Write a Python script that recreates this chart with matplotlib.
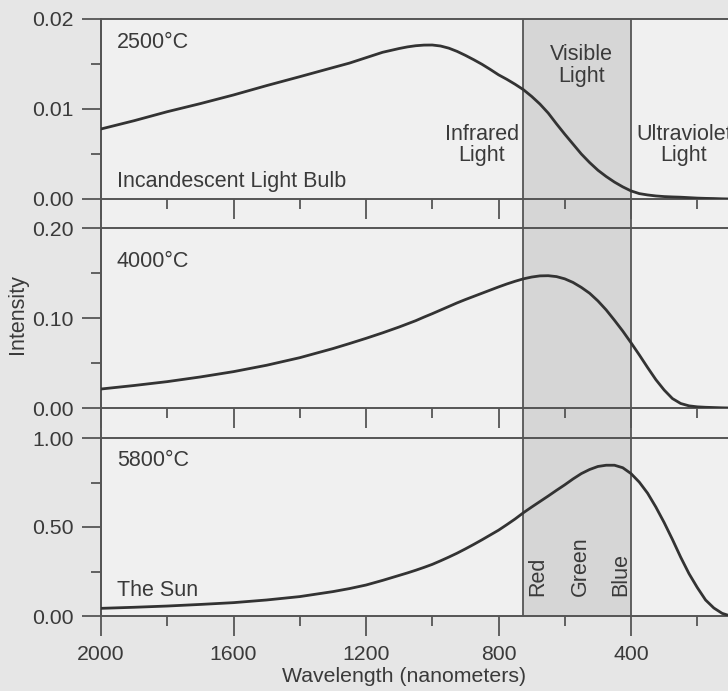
import matplotlib
matplotlib.use("Agg")
import matplotlib.pyplot as plt
from matplotlib.ticker import MultipleLocator, FormatStrFormatter
import matplotlib.transforms as mtrans

plt.rcParams['font.family'] = ['Liberation Sans', 'DejaVu Sans']

# ---- data ----
wavelength = [2000, 1900, 1800, 1700, 1600, 1500, 1400, 1300, 1250, 1200, 1150,
              1100, 1075, 1050, 1025, 1000, 975, 950, 925, 900, 875, 850, 825,
              800, 775, 750, 725, 700, 675, 650, 625, 600, 575, 550, 525, 500,
              475, 450, 425, 400, 375, 350, 325, 300, 275, 250, 225, 200, 175,
              150, 125, 100]
bulb_2500 = [.00778, .0087, .0097, .0106, .01156, .0126, .01359, .0146, .0151,
             .0157, .0163,
             .01672, .01690, .01703, .01710, .01711, .01700, .01676, .01640,
             .01596, .01548, .01497, .01440, .01380, .01330, .01275, .01215,
             .01140, .01055, .00955, .00835, .00720, .00610, .00500, .00405,
             .00320, .00250, .00188, .00135, .00090, .00060, .00045, .00034,
             .00027, .00023, .00020, .00015, .00010, .00007, .00005, .00002, 0.0]
star_4000 = [.0211, .025, .0293, .0345, .0404, .0475, .0559, .066, .0716,
             .0774, .0835,
             .0900, .0935, .0970, .1010, .1048, .1088, .1128, .1168, .1205,
             .1240, .1275, .1310, .1345, .1378, .1408, .1435, .1455, .1468,
             .1470, .1460, .1435, .1395, .1340, .1275, .1190, .1090, .0975,
             .0855, .0725, .0590, .0450, .0315, .0200, .0105, .0050, .0024,
             .0013, .0008, .0005, .0002, 0.0]
sun_5800 = [.043, .049, .056, .065, .075, .09, .109, .137, .154, .174, .200,
            .228, .242, .257, .273, .290, .310, .331, .353, .377, .402, .428,
            .455, .482, .513, .545, .580, .612, .643, .674, .706, .737, .770,
            .800, .823, .840, .847, .847, .833, .800, .752, .690, .612, .525,
            .430, .330, .238, .160, .090, .045, .015, 0.0]

visible_band = (725, 400)
x_major = [2000, 1600, 1200, 800, 400]
x_minor = [1800, 1400, 1000, 600, 200]
panel_titles = ["2500°C", "4000°C", "5800°C"]
panel_notes = ["Incandescent Light Bulb", "", "The Sun"]
y_tops = [0.02, 0.20, 1.00]
y_major_step = [0.01, 0.10, 0.50]
y_minor_step = [0.005, 0.05, 0.25]
y_fmt = ["%.2f", "%.2f", "%.2f"]
color_names = ["Red", "Green", "Blue"]
color_pos = [683, 554, 430]

series = [bulb_2500, star_4000, sun_5800]

# ---- style ----
W, H = 728, 691
fig = plt.figure(figsize=(W / 100, H / 100), dpi=100)
fig.patch.set_facecolor('#e6e6e6')
ink = '#3a3a3a'
spine_c = '#555555'
band_c = '#d6d6d6'
xlim = (2000, 100)
left = 101 / W
width = (730.4 - 101) / W

# panels (top px, bottom px)
panels_px = [(19, 199), (228, 408), (438, 616)]

# background axes spanning all panels
bg = fig.add_axes([left, 1 - 616 / H, width, (616 - 19) / H])
bg.set_xlim(*xlim)
bg.set_ylim(0, 1)
bg.set_facecolor('#f0f0f0')
for s in ['top', 'right', 'bottom']:
    bg.spines[s].set_visible(False)
bg.spines['left'].set_color(spine_c)
bg.spines['left'].set_linewidth(1.4)
bg.set_xticks([])
bg.set_yticks([])
bg.axvspan(visible_band[0], visible_band[1], color=band_c, lw=0, zorder=0)
for v in visible_band:
    bg.axvline(v, color=spine_c, lw=1.3, zorder=1)

fs_tick = 15.3
fs_txt = 15.5

axes = []
for i, (t, b) in enumerate(panels_px):
    ax = fig.add_axes([left, 1 - b / H, width, (b - t) / H])
    ax.patch.set_alpha(0)
    ax.set_xlim(*xlim)
    ax.set_ylim(0, y_tops[i])
    ax.plot(wavelength, series[i], color='#333333', lw=2.0,
            solid_capstyle='round', solid_joinstyle='round', zorder=5)
    ax.spines['right'].set_visible(False)
    for s in ['top', 'bottom', 'left']:
        ax.spines[s].set_color(spine_c)
        ax.spines[s].set_linewidth(1.4)
    ax.yaxis.set_major_locator(MultipleLocator(y_major_step[i]))
    ax.yaxis.set_minor_locator(MultipleLocator(y_minor_step[i]))
    ax.yaxis.set_major_formatter(FormatStrFormatter(y_fmt[i]))
    ax.set_xticks(x_major)
    ax.set_xticks(x_minor, minor=True)
    ax.tick_params(axis='y', which='major', direction='out', length=13.5, width=1.3,
                   color=spine_c, labelsize=fs_tick, labelcolor=ink, pad=6.0)
    ax.tick_params(axis='y', which='minor', direction='out', length=7.5, width=1.3,
                   color=spine_c)
    ax.tick_params(axis='x', which='major', direction='out', length=14.5, width=1.3,
                   color=spine_c, labelsize=fs_tick, labelcolor=ink, pad=6.5)
    ax.tick_params(axis='x', which='minor', direction='out', length=7.5, width=1.3,
                   color=spine_c)
    if i < 2:
        ax.tick_params(axis='x', labelbottom=False)
    trans = mtrans.blended_transform_factory(ax.transData, ax.transAxes)
    axes.append((ax, trans))

# panel texts
ax1, tr1 = axes[0]
ax2, tr2 = axes[1]
ax3, tr3 = axes[2]
ax1.text(1952, 0.839, panel_titles[0], transform=tr1, fontsize=fs_txt, color=ink,
         ha='left', va='baseline')
ax1.text(1952, 0.067, panel_notes[0], transform=tr1, fontsize=fs_txt, color=ink,
         ha='left', va='baseline')
ax2.text(1952, 0.785, panel_titles[1], transform=tr2, fontsize=fs_txt, color=ink,
         ha='left', va='baseline')
ax3.text(1952, 0.844, panel_titles[2], transform=tr3, fontsize=fs_txt, color=ink,
         ha='left', va='baseline')
ax3.text(1952, 0.112, panel_notes[2], transform=tr3, fontsize=fs_txt, color=ink,
         ha='left', va='baseline')

ax1.text(851, 0.30, "Infrared\nLight", transform=tr1, fontsize=fs_txt, color=ink,
         ha='center', va='center', linespacing=1.05)
ax1.text(549, 0.74, "Visible\nLight", transform=tr1, fontsize=fs_txt, color=ink,
         ha='center', va='center', linespacing=1.05)
ax1.text(240, 0.30, "Ultraviolet\nLight", transform=tr1, fontsize=fs_txt, color=ink,
         ha='center', va='center', linespacing=1.05, clip_on=False)

for name, pos in zip(color_names, color_pos):
    ax3.text(pos, 0.112, name, transform=tr3, fontsize=fs_txt, color=ink,
             rotation=90, ha='center', va='bottom')

fig.text(17 / W, 1 - 314 / H, "Intensity", rotation=90, fontsize=15.5, color=ink,
         ha='center', va='center')
fig.text(404 / W, 1 - 677 / H, "Wavelength (nanometers)", fontsize=fs_tick,
         color=ink, ha='center', va='center')

fig.savefig("out.png", dpi=100, facecolor=fig.get_facecolor())
